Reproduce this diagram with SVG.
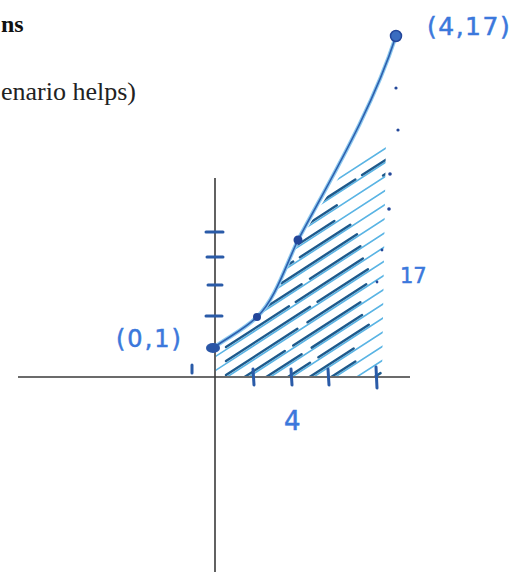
<svg xmlns="http://www.w3.org/2000/svg" width="529" height="575" viewBox="0 0 529 575">
<style>
.axis{stroke:#3a3a3a;stroke-width:1.6;fill:none}
.ink{fill:#3b78dc;stroke:#3b78dc;stroke-width:0.5;font-family:"DejaVu Sans",sans-serif}
.tick{stroke:#2a5ba8;stroke-width:3;stroke-linecap:round;fill:none}
.hd{stroke:#1e5a8c;stroke-width:2.4;stroke-linecap:round}
.hl{stroke:#5ab4e4;stroke-width:1.6;stroke-linecap:round}
.dot{fill:#24489a}
</style>
<defs>
<clipPath id="reg">
<path d="M216,376 L216,352 L235,336 L257,319 L280,282 L298,244 L320,207 L345,168 L368,140 L386,138 L382,376 Z"/>
</clipPath>
</defs>
<rect width="529" height="575" fill="#fff"/>
<g id="heading">
<text x="1" y="32" font-family="Liberation Serif,serif" font-weight="bold" font-size="24" fill="#111">ns</text>
<text x="1" y="100" font-family="Liberation Serif,serif" font-size="26" fill="#222">enario helps)</text>
</g>
<g id="axes">
<line class="axis" x1="18" y1="377" x2="410" y2="377"/>
<line class="axis" x1="215" y1="178" x2="215" y2="572"/>
</g>
<g id="hatching" clip-path="url(#reg)">
<g class="hl">
<line x1="210" y1="262" x2="400" y2="139"/>
<line x1="210" y1="276" x2="400" y2="153"/>
<line x1="210" y1="290" x2="400" y2="167"/>
<line x1="210" y1="304" x2="400" y2="181"/>
<line x1="210" y1="318" x2="400" y2="195"/>
<line x1="210" y1="332" x2="400" y2="209"/>
<line x1="210" y1="346" x2="400" y2="223"/>
<line x1="210" y1="360" x2="400" y2="237"/>
<line x1="210" y1="374" x2="400" y2="251"/>
<line x1="210" y1="388" x2="400" y2="265"/>
<line x1="210" y1="402" x2="400" y2="279"/>
<line x1="210" y1="416" x2="400" y2="293"/>
<line x1="210" y1="430" x2="400" y2="307"/>
<line x1="210" y1="444" x2="400" y2="321"/>
<line x1="210" y1="458" x2="400" y2="335"/>
<line x1="210" y1="472" x2="400" y2="349"/>
</g>
<g class="hd">
<line x1="226" y1="263" x2="390" y2="157" stroke-dasharray="40 8 60 6"/>
<line x1="226" y1="277" x2="390" y2="171" stroke-dasharray="55 7 70"/>
<line x1="226" y1="291" x2="390" y2="185" stroke-dasharray="70 9 50"/>
<line x1="226" y1="305" x2="390" y2="199" stroke-dasharray="80 8 60"/>
<line x1="226" y1="319" x2="390" y2="213" stroke-dasharray="60 6 90"/>
<line x1="226" y1="333" x2="390" y2="227" stroke-dasharray="90 10 60"/>
<line x1="226" y1="347" x2="390" y2="241" stroke-dasharray="75 8 80"/>
<line x1="226" y1="361" x2="390" y2="255" stroke-dasharray="100 9 60"/>
<line x1="226" y1="375" x2="390" y2="269" stroke-dasharray="85 12 70"/>
<line x1="226" y1="389" x2="390" y2="283" stroke-dasharray="70 10 80"/>
<line x1="226" y1="403" x2="390" y2="297" stroke-dasharray="90 12 60"/>
<line x1="226" y1="417" x2="390" y2="311" stroke-dasharray="100 10 60"/>
<line x1="226" y1="431" x2="390" y2="325" stroke-dasharray="60 12 80"/>
<line x1="226" y1="445" x2="390" y2="339" stroke-dasharray="80 14 60"/>
<line x1="226" y1="459" x2="390" y2="353" stroke-dasharray="70 10 50"/>
<line x1="226" y1="473" x2="390" y2="367" stroke-dasharray="60 12 40"/>
</g>
</g>
<g id="curve">
<path d="M213,348 C230,336 245,329 257,317 C275,300 286,265 298,240 C330,180 372,110 396,36" fill="none" stroke="#8cc8ee" stroke-width="4"/>
<path d="M213,348 C230,336 245,329 257,317 C275,300 286,265 298,240 C330,180 372,110 396,36" fill="none" stroke="#2d5fae" stroke-width="1.6"/>
<circle cx="257" cy="317" r="4" fill="#23469a"/>
<circle cx="298" cy="240" r="4.5" fill="#23469a"/>
<circle cx="396" cy="36" r="5.5" fill="#3a6cc0" stroke="#23469a" stroke-width="1.5"/>
<ellipse cx="213" cy="348" rx="7" ry="5" fill="#2a56a6"/>
</g>
<g id="y-ticks">
<line class="tick" x1="206" y1="232" x2="223" y2="232"/>
<line class="tick" x1="207" y1="257" x2="223" y2="257"/>
<line class="tick" x1="208" y1="285" x2="222" y2="285"/>
<line class="tick" x1="206" y1="316" x2="222" y2="316"/>
<line class="tick" x1="192" y1="365" x2="192" y2="373" stroke-width="2.2"/>
</g>
<g id="x-ticks">
<line class="tick" x1="253" y1="369" x2="254" y2="385" stroke-width="2.6"/>
<line class="tick" x1="291" y1="369" x2="292" y2="385" stroke-width="2.6"/>
<line class="tick" x1="328" y1="369" x2="329" y2="385" stroke-width="2.6"/>
<line class="tick" x1="376" y1="367" x2="377" y2="388" stroke-width="2.6"/>
</g>
<g id="dotted-line">
<circle class="dot" cx="396" cy="88" r="1.6"/>
<circle class="dot" cx="398" cy="130" r="1.6"/>
<circle class="dot" cx="390" cy="174" r="1.8"/>
<circle class="dot" cx="389" cy="209" r="1.8"/>
<circle class="dot" cx="382" cy="250" r="1.4"/>
<circle class="dot" cx="377" cy="282" r="1.4"/>
</g>
<g id="labels">
<text class="ink" x="427" y="35" font-size="25" letter-spacing="1.5">(4,17)</text>
<text class="ink" x="116" y="347" font-size="24" letter-spacing="2">(0,1)</text>
<text class="ink" x="284" y="430" font-size="26">4</text>
<text class="ink" x="400" y="283" font-size="21">17</text>
</g>
</svg>
